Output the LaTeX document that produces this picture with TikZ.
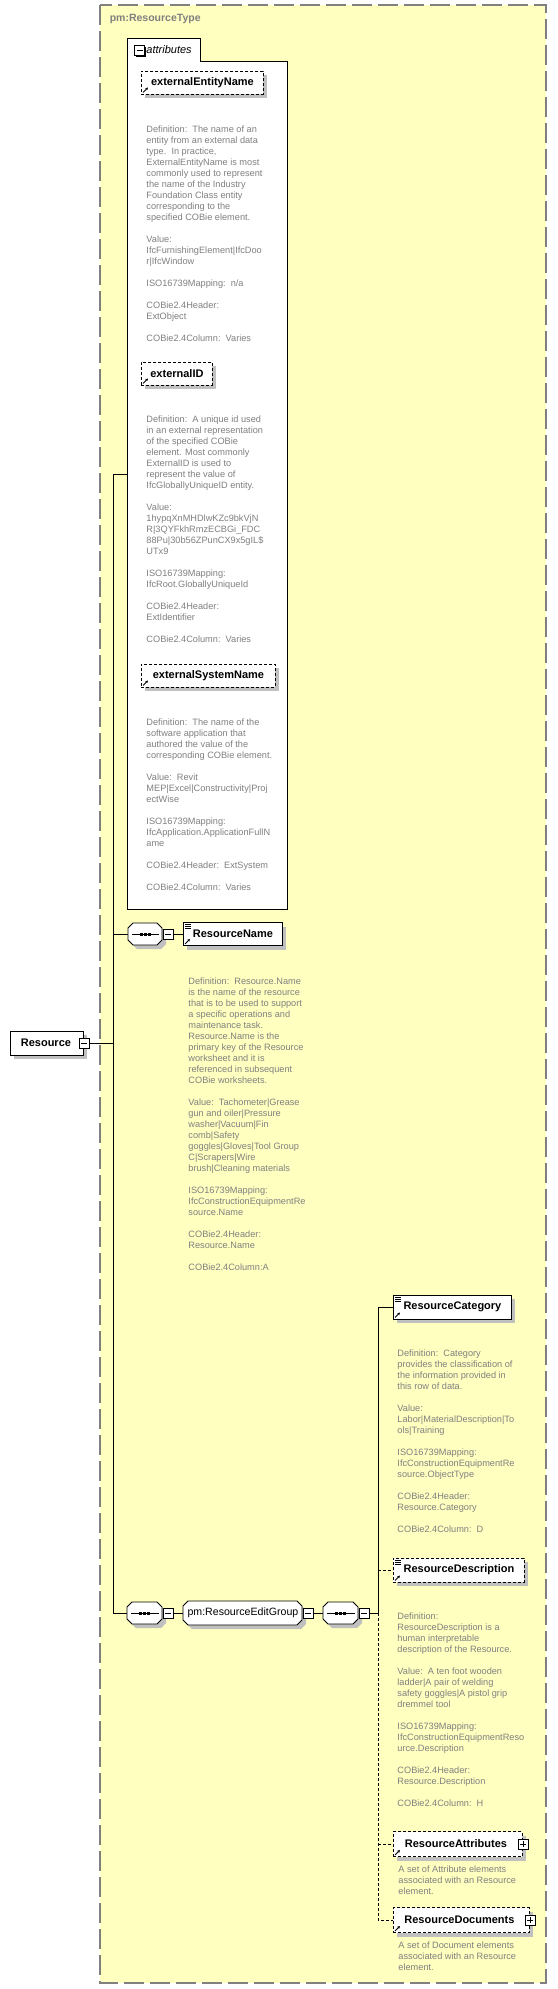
\documentclass[tikz,border=0pt]{standalone}
\usepackage{fontspec}
\setmainfont{Liberation Sans}
\usepackage{xcolor}
\usetikzlibrary{positioning,shadows,arrows.meta}

\definecolor{typefill}{RGB}{255,255,192}
\definecolor{typeline}{RGB}{128,128,128}
\definecolor{descgray}{RGB}{128,128,128}
\definecolor{shadowgray}{RGB}{192,192,192}

\newcommand\elemlines[1]{\draw[line width=0.7pt] \foreach \dy in {2.5,4.5,6.5} {([shift={(2,\dy)}]#1.north west) -- ++(6,0)};}
\newcommand\elemref[1]{\draw[line width=0.8pt,-{Latex[length=2.5pt,width=3pt]}] ([shift={(2,-2)}]#1.south west) -- ++(5,-5);}
\newcommand\octpath[5]{({#1},{#2-#4/2+#5}) -- ({#1+#5},{#2-#4/2}) -- ({#1+#3-#5},{#2-#4/2}) -- ({#1+#3},{#2-#4/2+#5})
	-- ({#1+#3},{#2+#4/2-#5}) -- ({#1+#3-#5},{#2+#4/2}) -- ({#1+#5},{#2+#4/2}) -- ({#1},{#2+#4/2-#5}) -- cycle}
\newcommand\octshape[5]{\fill[shadowgray,shift={(4,4)}] \octpath{#1}{#2}{#3}{#4}{#5};
	\draw[fill=white] \octpath{#1}{#2}{#3}{#4}{#5};}
\newcommand\seqmark[1]{\draw[line width=0.9pt] ([xshift=4pt]#1.west) -- ([xshift=-4pt]#1.east);
	\foreach \dx in {-5.5,-1.5,2.5} \fill ([shift={(\dx pt,-1.5pt)}]#1.center) rectangle +(3pt,3pt);}

\begin{document}
\begin{tikzpicture}[x=1pt,y=-1pt,line width=0.9pt,
	elem/.style={draw,fill=white,anchor=west,inner sep=0pt,font=\fontsize{11}{13}\selectfont\bfseries,
		drop shadow={shadow xshift=4pt,shadow yshift=-4pt,fill=shadowgray,opacity=1}},
	optional/.style={dash pattern=on 3pt off 2pt},
	desc/.style={anchor=north west,align=left,inner sep=0pt,text=descgray,font=\fontsize{9.2}{11}\selectfont},
	compositor/.style={minimum width=34pt,minimum height=22pt,inner sep=0pt,anchor=west},
	group/.style={inner sep=0pt,anchor=west,font=\fontsize{10.6}{12}\selectfont},
	togglebox/.style={draw,fill=white,minimum size=10pt,inner sep=0pt,line width=0.8pt,
		drop shadow={shadow xshift=1pt,shadow yshift=-1pt,fill=black,opacity=1},
		path picture={\draw[line width=0.8pt] ([xshift=2pt]path picture bounding box.west) -- ([xshift=-2pt]path picture bounding box.east);}},
	expandbox/.style={togglebox,
		path picture={\draw[line width=0.8pt] ([xshift=2pt]path picture bounding box.west) -- ([xshift=-2pt]path picture bounding box.east)
			([yshift=-2pt]path picture bounding box.north) -- ([yshift=2pt]path picture bounding box.south);}}]

	\fill[white] (0,0) rectangle (557,1989);
	\useasboundingbox (0,0) rectangle (557,1989);

	\draw[fill=typefill,draw=typeline,line width=1.2pt,dash pattern=on 20pt off 6pt] (100,5) rectangle (546,1983);
	\node[anchor=west,text=typeline,font=\fontsize{10.5}{12}\selectfont\bfseries] (typelbl) at (106,19) {pm:ResourceType};

	\draw[fill=white] (127,909) |- (200,38) |- (287,61) |- (127,909) -- cycle;
	\node[togglebox] (attrm) at (139.5,50.5) {};
	\node[anchor=west,inner sep=0pt,font=\fontsize{11}{13}\selectfont\itshape] (attrlbl) at (146,50) {attributes};
	\coordinate (attrs) at (127,474);

	\node[elem,optional,minimum width=122pt,minimum height=23pt] (een) at (141,82.5) {externalEntityName};
	\elemref{een}
	\node[desc] (eendesc) at (146,125.8) {Definition:\ \ The name of an\\
		entity from an external data\\
		type.\ \ In practice,\\
		ExternalEntityName is most\\
		commonly used to represent\\
		the name of the Industry\\
		Foundation Class entity\\
		corresponding to the\\
		specified COBie element.\\[11pt]
		Value:\\
		IfcFurnishingElement|IfcDoo\\
		r|IfcWindow\\[11pt]
		ISO16739Mapping:\ \ n/a\\[11pt]
		COBie2.4Header:\\
		ExtObject\\[11pt]
		COBie2.4Column:\ \ Varies};

	\node[elem,optional,minimum width=71pt,minimum height=23pt] (eid) at (141,373.5) {externalID};
	\elemref{eid}
	\node[desc] (eiddesc) at (146,415.8) {Definition:\ \ A unique id used\\
		in an external representation\\
		of the specified COBie\\
		element. Most commonly\\
		ExternalID is used to\\
		represent the value of\\
		IfcGloballyUniqueID entity.\\[11pt]
		Value:\\
		1hypqXnMHDlwKZc9bkVjN\\
		R|3QYFkhRmzECBGi\_FDC\\
		88Pu|30b56ZPunCX9x5gIL\$\\
		UTx9\\[11pt]
		ISO16739Mapping:\\
		IfcRoot.GloballyUniqueId\\[11pt]
		COBie2.4Header:\\
		ExtIdentifier\\[11pt]
		COBie2.4Column:\ \ Varies};

	\node[elem,optional,minimum width=134pt,minimum height=23pt] (esn) at (141,675.5) {externalSystemName};
	\elemref{esn}
	\node[desc] (esndesc) at (146,718.8) {Definition:\ \ The name of the\\
		software application that\\
		authored the value of the\\
		corresponding COBie element.\\[11pt]
		Value:\ \ Revit\\
		MEP|Excel|Constructivity|Proj\\
		ectWise\\[11pt]
		ISO16739Mapping:\\
		IfcApplication.ApplicationFullN\\
		ame\\[11pt]
		COBie2.4Header:\ \ ExtSystem\\[11pt]
		COBie2.4Column:\ \ Varies};

	\node[elem,minimum width=73pt,minimum height=24pt] (res) at (10,1043) {Resource\hspace*{2pt}};
	\node[togglebox] (resm) at (res.east) {};

	\octshape{128}{934}{34}{22}{5}
	\node[compositor] (seq1) at (128,934) {};
	\seqmark{seq1}
	\node[togglebox,right=0pt of seq1] (seq1m) {};
	\node[elem,minimum width=99pt,minimum height=23pt] (rname) at (183,934) {ResourceName};
	\elemlines{rname}
	\elemref{rname}
	\node[desc] (rnamedesc) at (188,977.8) {Definition:\ \ Resource.Name\\
		is the name of the resource\\
		that is to be used to support\\
		a specific operations and\\
		maintenance task.\\
		Resource.Name is the\\
		primary key of the Resource\\
		worksheet and it is\\
		referenced in subsequent\\
		COBie worksheets.\\[11pt]
		Value:\ \ Tachometer|Grease\\
		gun and oiler|Pressure\\
		washer|Vacuum|Fin\\
		comb|Safety\\
		goggles|Gloves|Tool Group\\
		C|Scrapers|Wire\\
		brush|Cleaning materials\\[11pt]
		ISO16739Mapping:\\
		IfcConstructionEquipmentRe\\
		source.Name\\[11pt]
		COBie2.4Header:\\
		Resource.Name\\[11pt]
		COBie2.4Column:A};

	\octshape{127}{1613}{35}{22}{5}
	\node[compositor,minimum width=35pt] (seq2) at (127,1613) {};
	\seqmark{seq2}
	\node[togglebox,right=0pt of seq2] (seq2m) {};
	\octshape{183}{1613}{119}{24}{5}
	\node[group,minimum width=119pt,minimum height=24pt] (grp) at (183,1613) {pm:ResourceEditGroup};
	\node[togglebox,right=0pt of grp] (grpm) {};
	\octshape{323}{1613}{35}{22}{5}
	\node[compositor,minimum width=35pt] (seq3) at (323,1613) {};
	\seqmark{seq3}
	\node[togglebox,right=0pt of seq3] (seq3m) {};
	\coordinate (fork) at (378,1613);

	\node[elem,minimum width=118pt,minimum height=24pt] (rcat) at (393,1307) {ResourceCategory};
	\elemlines{rcat}
	\elemref{rcat}
	\node[desc] (rcatdesc) at (397,1349.8) {Definition:\ \ Category\\
		provides the classification of\\
		the information provided in\\
		this row of data.\\[11pt]
		Value:\\
		Labor|MaterialDescription|To\\
		ols|Training\\[11pt]
		ISO16739Mapping:\\
		IfcConstructionEquipmentRe\\
		source.ObjectType\\[11pt]
		COBie2.4Header:\\
		Resource.Category\\[11pt]
		COBie2.4Column:\ \ D};

	\node[elem,optional,minimum width=131pt,minimum height=24pt] (rdesc) at (393,1570) {ResourceDescription};
	\elemlines{rdesc}
	\elemref{rdesc}
	\node[desc] (rdescdesc) at (397,1612.8) {Definition:\\
		ResourceDescription is a\\
		human interpretable\\
		description of the Resource.\\[11pt]
		Value:\ \ A ten foot wooden\\
		ladder|A pair of welding\\
		safety goggles|A pistol grip\\
		dremmel tool\\[11pt]
		ISO16739Mapping:\\
		IfcConstructionEquipmentReso\\
		urce.Description\\[11pt]
		COBie2.4Header:\\
		Resource.Description\\[11pt]
		COBie2.4Column:\ \ H};

	\node[elem,optional,minimum width=129pt,minimum height=25pt] (rattr) at (393,1844) {ResourceAttributes\hspace*{4pt}};
	\node[expandbox] (rattrp) at (rattr.east) {};
	\elemref{rattr}
	\node[desc] (rattrdesc) at (398,1865.8) {A set of Attribute elements\\
		associated with an Resource\\
		element.};

	\node[elem,optional,minimum width=136pt,minimum height=25pt] (rdoc) at (393,1920) {ResourceDocuments\hspace*{4pt}};
	\node[expandbox] (rdocp) at (rdoc.east) {};
	\elemref{rdoc}
	\node[desc] (rdocdesc) at (398,1941.8) {A set of Document elements\\
		associated with an Resource\\
		element.};

	\coordinate (spine) at (113,474);
	\coordinate (spineend) at (113,1613);
	\draw (spine) -- (spineend);
	\draw (spine) -- (attrs);
	\draw (resm.east) -- (resm.east -| spine);
	\draw (seq1.west -| spine) -- (seq1.west);
	\draw (seq1m.east) -- (rname.west);
	\draw (spineend) -- (seq2.west);
	\draw (seq2m.east) -- (grp.west);
	\draw (grpm.east) -- (seq3.west);
	\draw (seq3m.east) -- (fork);
	\draw (fork) |- (rcat.west);
	\draw[optional] (fork) |- (rdoc.west);
	\draw[optional] (rdesc.west -| fork) -- (rdesc.west);
	\draw[optional] (rattr.west -| fork) -- (rattr.west);
\end{tikzpicture}
\end{document}
